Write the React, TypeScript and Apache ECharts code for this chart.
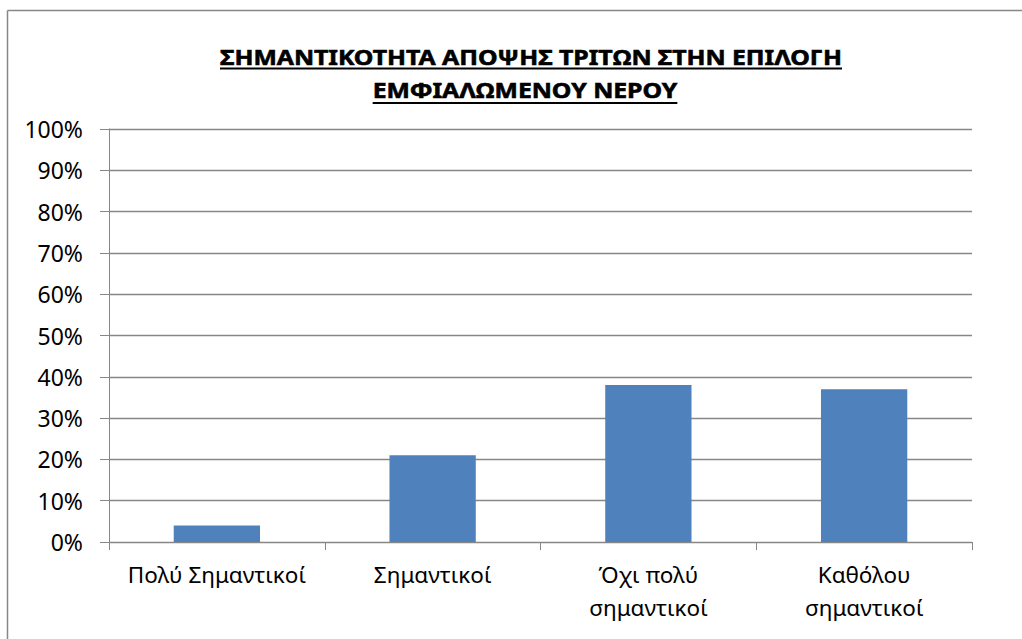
import React, { useEffect, useRef } from "react";
import * as echarts from "echarts";

const categories = [
  "Πολύ Σημαντικοί",
  "Σημαντικοί",
  "Όχι πολύ\nσημαντικοί",
  "Καθόλου\nσημαντικοί",
];
const values = [4, 21, 38, 37];
const yMin = 0;
const yMax = 100;
const yStep = 10;
const titleLines = [
  "ΣΗΜΑΝΤΙΚΟΤΗΤΑ ΑΠΟΨΗΣ ΤΡΙΤΩΝ ΣΤΗΝ ΕΠΙΛΟΓΗ",
  "ΕΜΦΙΑΛΩΜΕΝΟΥ ΝΕΡΟΥ",
];

const FONT = '"Noto Sans", "DejaVu Sans", sans-serif';
const GREY = "#878787";

function measure(text: string, font: string): number {
  const c = document.createElement("canvas");
  const ctx = c.getContext("2d");
  if (!ctx) return text.length * 12;
  ctx.font = font;
  return ctx.measureText(text).width;
}

export default function App() {
  const ref = useRef<HTMLDivElement>(null);

  useEffect(() => {
    if (!ref.current) return;
    document.documentElement.style.overflow = "hidden";
    document.body.style.margin = "0";
    document.body.style.overflow = "hidden";
    const chart = echarts.init(ref.current, undefined, { renderer: "svg" });

    const titleFontSize = 22;
    const titleFont = `bold ${titleFontSize}px ${FONT}`;
    const w1 = measure(titleLines[0], titleFont);
    const w2 = measure(titleLines[1], titleFont);
    const targetW1 = 622;
    const sx = targetW1 / w1;
    const cx1 = 531;
    const cx2 = 525;
    const tw1 = w1 * sx;
    const tw2 = w2 * sx;

    const titleStyle = {
      fill: "#000",
      stroke: "#000",
      lineWidth: 0.6,
      font: titleFont,
      textAlign: "center",
      textVerticalAlign: "middle",
    };

    chart.setOption({
      animation: false,
      backgroundColor: "#fff",
      grid: {
        left: 109,
        right: 50,
        top: 129,
        bottom: 97,
        containLabel: false,
        outerBoundsMode: "none",
      },
      xAxis: {
        type: "category",
        data: categories,
        axisLine: { show: true, lineStyle: { color: GREY, width: 1 } },
        axisTick: { show: true, length: 8, lineStyle: { color: GREY } },
        axisLabel: {
          color: "#000",
          fontFamily: FONT,
          fontSize: 22.5,
          lineHeight: 33,
          margin: 16,
          interval: 0,
        },
        splitLine: { show: false },
      },
      yAxis: {
        type: "value",
        min: yMin,
        max: yMax,
        interval: yStep,
        axisLine: { show: true, lineStyle: { color: GREY, width: 1 } },
        axisTick: { show: true, length: 9, lineStyle: { color: GREY } },
        axisLabel: {
          color: "#000",
          fontFamily: FONT,
          fontSize: 23,
          margin: 26,
          formatter: "{value}%",
        },
        splitLine: { show: true, lineStyle: { color: GREY, width: 1.4 } },
      },
      series: [
        {
          type: "bar",
          data: values,
          barWidth: "40%",
          itemStyle: { color: "#4F81BD" },
        },
      ],
      graphic: [
        {
          type: "line",
          silent: true,
          shape: { x1: 7.5, y1: 10.5, x2: 1022, y2: 10.5 },
          style: { stroke: GREY, lineWidth: 1.5 },
        },
        {
          type: "line",
          silent: true,
          shape: { x1: 7.5, y1: 10.5, x2: 7.5, y2: 639 },
          style: { stroke: GREY, lineWidth: 1.5 },
        },
        {
          type: "text",
          x: cx1,
          y: 57,
          scaleX: sx,
          style: { ...titleStyle, text: titleLines[0] },
        },
        {
          type: "text",
          x: cx2,
          y: 90,
          scaleX: sx,
          style: { ...titleStyle, text: titleLines[1] },
        },
        {
          type: "line",
          shape: { x1: cx1 - tw1 / 2, y1: 68.5, x2: cx1 + tw1 / 2, y2: 68.5 },
          style: { stroke: "#000", lineWidth: 2 },
        },
        {
          type: "line",
          shape: { x1: cx2 - tw2 / 2, y1: 103, x2: cx2 + tw2 / 2, y2: 103 },
          style: { stroke: "#000", lineWidth: 2 },
        },
      ],
    });

    return () => {
      chart.dispose();
    };
  }, []);

  return (
    <div
      ref={ref}
      style={{ position: "fixed", left: 0, top: 0, width: 1022, height: 639 }}
    />
  );
}
